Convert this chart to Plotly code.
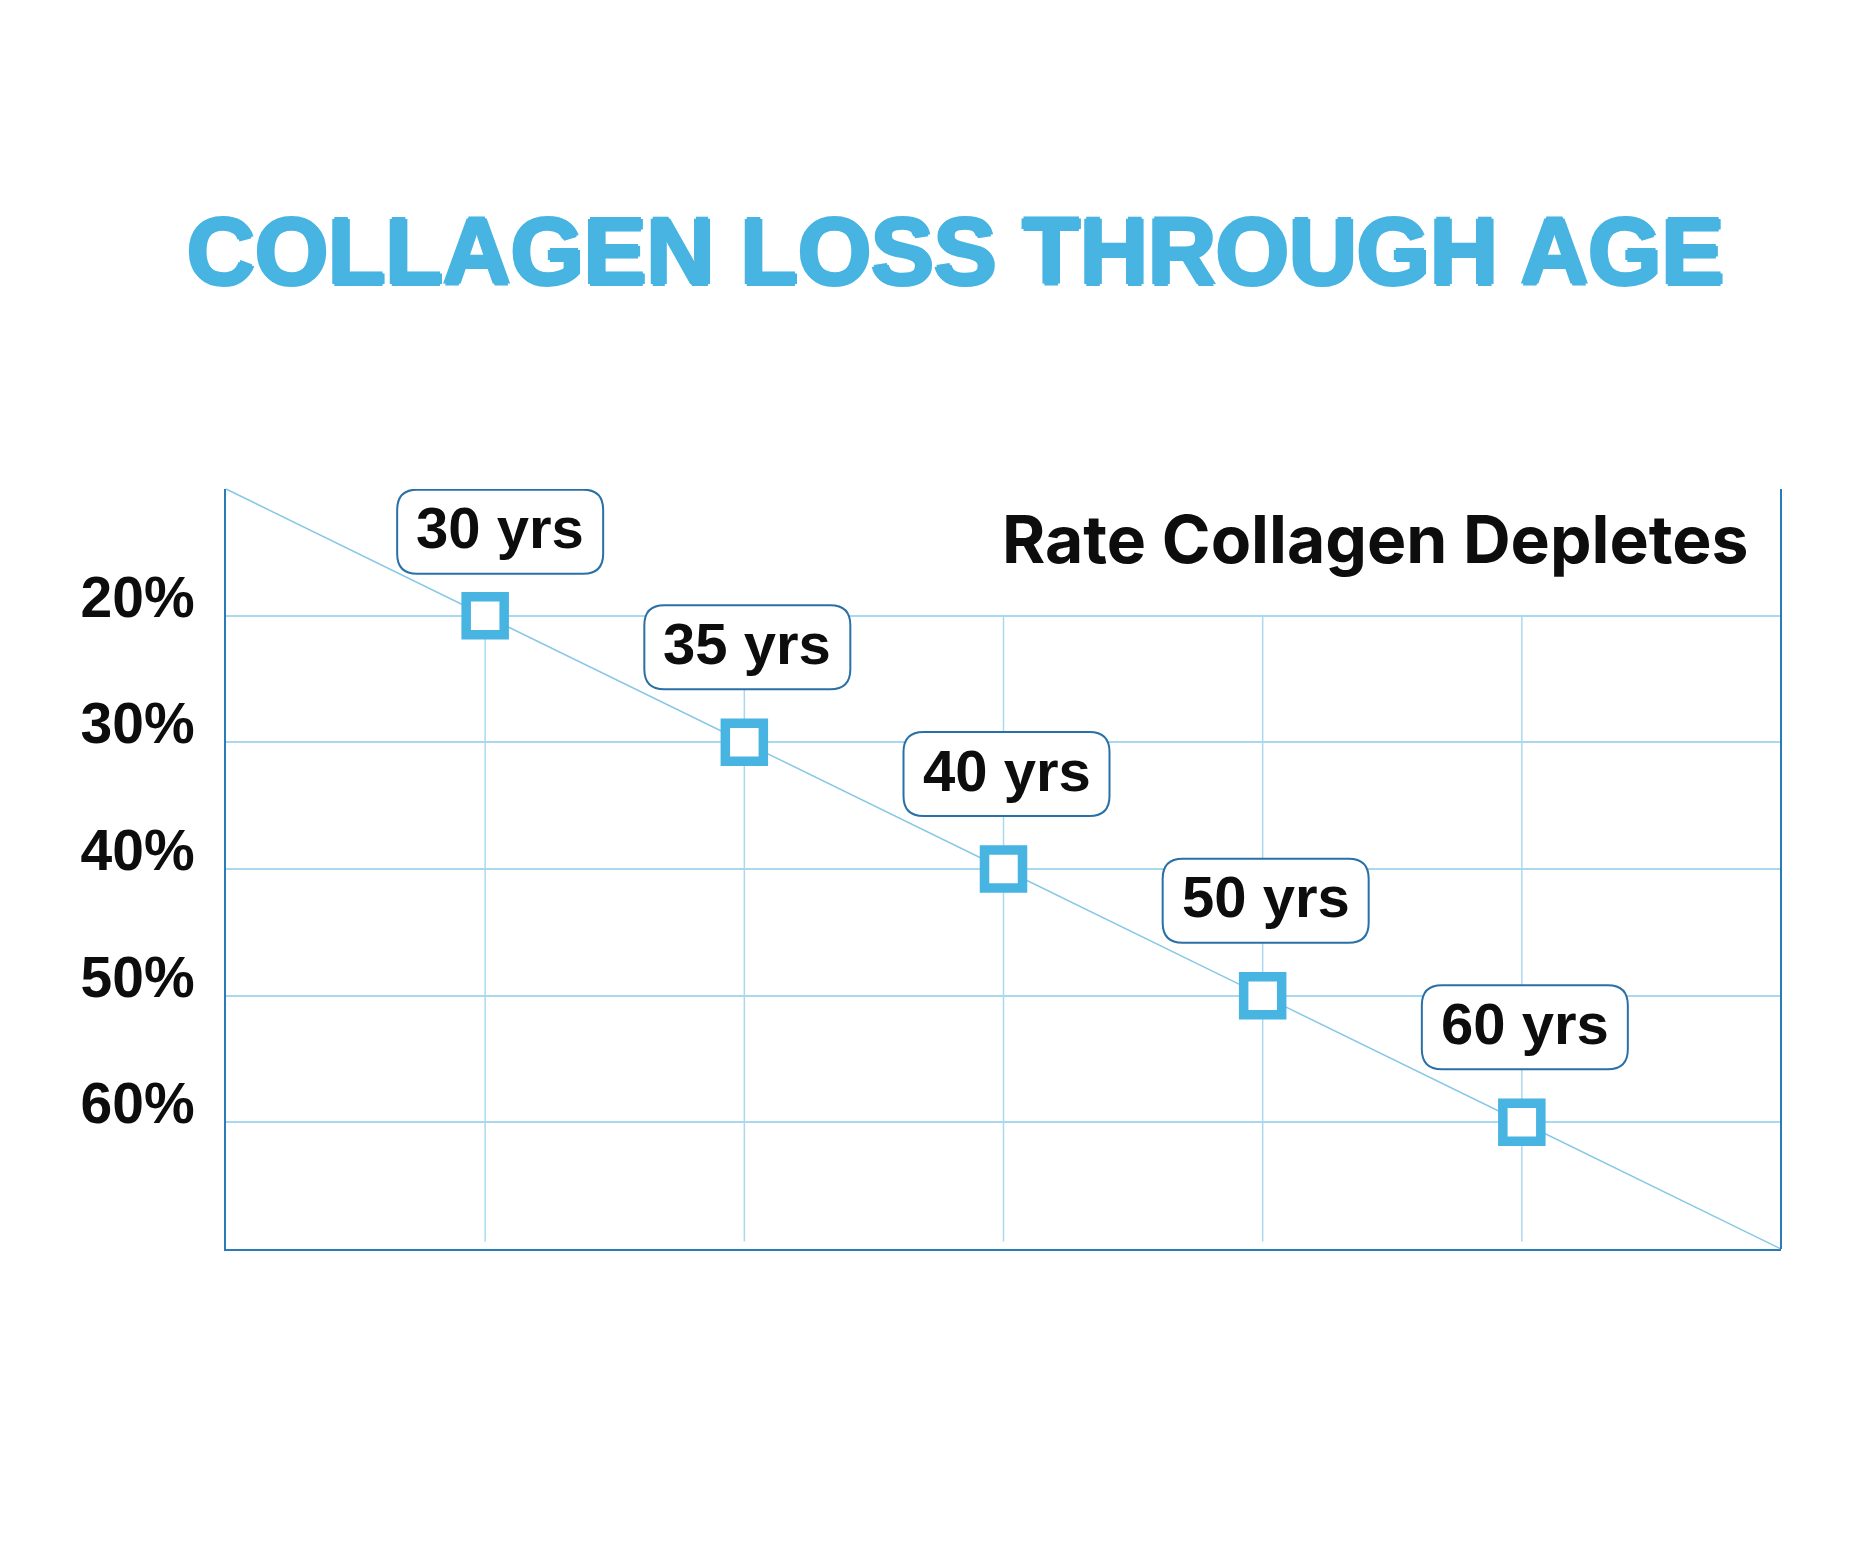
import plotly.graph_objects as go

# ---- data ----
ages = ["30 yrs", "35 yrs", "40 yrs", "50 yrs", "60 yrs"]
depletion = [20, 30, 40, 50, 60]          # % collagen depleted
y_ticks = [20, 30, 40, 50, 60]
y_tick_labels = ["20%", "30%", "40%", "50%", "60%"]
title_text = "COLLAGEN LOSS THROUGH AGE"
subtitle_text = "Rate Collagen Depletes"

# ---- styling ----
BLUE = "#47b4e2"
GRID = "#a9d9ee"
AXIS = "#2b7bb9"
BOX = "#2a70a6"
DIAG = "#86c7e6"
W, H = 1875, 1560
L, R, T, B = 218, 102, 481, 319

xpos = list(range(1, len(ages) + 1))

fig = go.Figure()
fig.add_trace(go.Scatter(
    x=xpos, y=depletion, mode="markers",
    marker=dict(symbol="square", size=38, color="white",
                line=dict(color=BLUE, width=9.5)),
    hoverinfo="skip", showlegend=False, cliponaxis=False,
))

shapes = []
# diagonal trend across plot area
shapes.append(dict(type="line", xref="x domain", yref="y domain",
                   x0=0, y0=1, x1=1, y1=0, layer="below",
                   line=dict(color=DIAG, width=1.5)))
# vertical grid lines from first gridline down
for xi in xpos:
    shapes.append(dict(type="line", xref="x", yref="y",
                       x0=xi, x1=xi, y0=y_ticks[0], y1=69.4, layer="below",
                       line=dict(color=GRID, width=1.5)))
# right border
shapes.append(dict(type="line", xref="x domain", yref="y domain",
                   x0=1, x1=1, y0=0, y1=1, layer="above",
                   line=dict(color=AXIS, width=2)))

# rounded label boxes (pixel-sized, anchored at points)
BW, BH, RAD = 206, 84, 20
annotations = []
for i, (xi, yi, lab) in enumerate(zip(xpos, depletion, ages)):
    dx, dy = (15, 84) if i == 0 else (3, 95)
    x0, x1 = dx - BW / 2, dx + BW / 2
    y0, y1 = dy - BH / 2, dy + BH / 2
    r = RAD
    path = (f"M {x0+r},{y0} L {x1-r},{y0} Q {x1},{y0} {x1},{y0+r} "
            f"L {x1},{y1-r} Q {x1},{y1} {x1-r},{y1} L {x0+r},{y1} "
            f"Q {x0},{y1} {x0},{y1-r} L {x0},{y0+r} Q {x0},{y0} {x0+r},{y0} Z")
    shapes.append(dict(type="path", xref="x", yref="y",
                       xsizemode="pixel", ysizemode="pixel",
                       xanchor=xi, yanchor=yi, path=path, layer="above",
                       fillcolor="white", line=dict(color=BOX, width=2)))
    annotations.append(dict(x=xi, y=yi, xref="x", yref="y", text=f"<b>{lab}</b>",
                            showarrow=False, xshift=dx, yshift=dy + 4,
                            xanchor="center", yanchor="middle",
                            font=dict(family="Liberation Sans, Arial, sans-serif",
                                      size=58, color="#0d0d0d")))

annotations.append(dict(
    x=(947 - L) / (W - L - R), y=(H - B - 244) / (H - T - B),
    xref="paper", yref="paper", xanchor="center", yanchor="middle",
    text=f"<b>{title_text}</b>", showarrow=False,
    font=dict(family="Liberation Sans, Arial, sans-serif", size=94, color=BLUE,
              shadow=f"2px 0 0 {BLUE}, -2px 0 0 {BLUE}, 0 2px 0 {BLUE}, 0 -2px 0 {BLUE}")))

annotations.append(dict(
    x=(1743 - L) / (W - L - R), y=(H - B - 531) / (H - T - B),
    xref="paper", yref="paper", xanchor="right", yanchor="middle",
    text=f"<b>{subtitle_text}</b>", showarrow=False,
    font=dict(family="Inter, Liberation Sans, sans-serif", size=66, color="#0d0d0d")))

fig.update_layout(
    width=W, height=H, margin=dict(l=L, r=R, t=T, b=B, autoexpand=False),
    paper_bgcolor="white", plot_bgcolor="white",
    shapes=shapes, annotations=annotations, showlegend=False,
    xaxis=dict(range=[0, len(ages) + 1], showgrid=False, zeroline=False,
               showticklabels=False, ticks="", showline=True,
               linecolor=AXIS, linewidth=2, fixedrange=True),
    yaxis=dict(range=[70, 10], tickvals=y_ticks, ticktext=y_tick_labels,
               showgrid=True, gridcolor=GRID, gridwidth=1.5, zeroline=False,
               ticks="", showline=True, linecolor=AXIS, linewidth=2,
               ticklabelstandoff=18, ticklabelshift=19,
               tickfont=dict(family="Liberation Sans, Arial, sans-serif",
                             size=57, color="#0d0d0d", weight="bold"),
               fixedrange=True),
)

fig.write_html("out.html", config={"displayModeBar": False})
